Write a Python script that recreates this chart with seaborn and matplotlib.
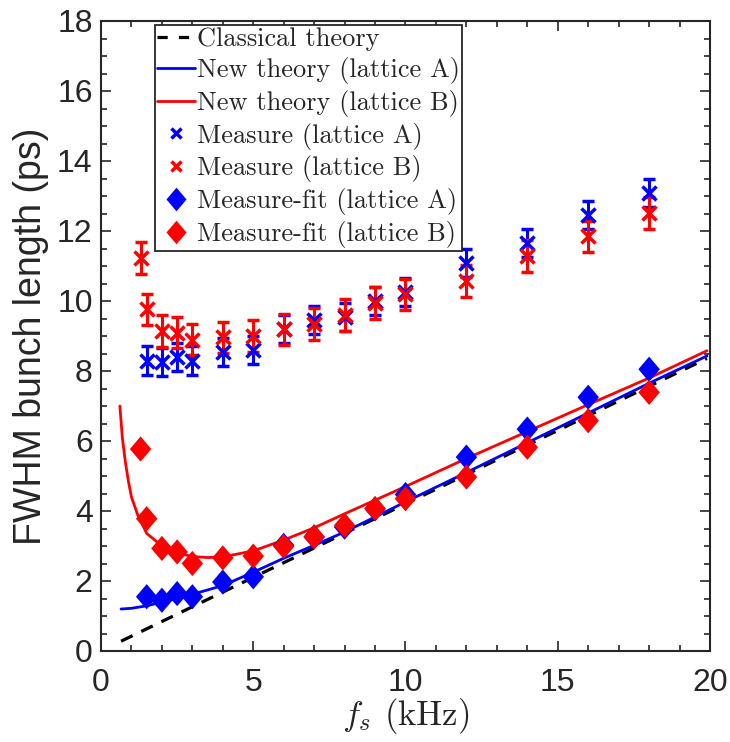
import numpy as np
import pandas as pd
import matplotlib
matplotlib.use("Agg")
import matplotlib.pyplot as plt
from matplotlib.lines import Line2D
from matplotlib.ticker import MultipleLocator
import seaborn as sns

#%% data
# classical theory (straight dashed line)
fs_classic = [0.66, 19.9]
bl_classic = [0.28, 8.36]

# new theory, lattice A
fs_theory_A = [0.66, 1.0, 1.5, 2.0, 2.5, 3.0, 4.0, 5.0, 6.0, 7.0, 8.0, 10.0, 12.0, 14.0, 16.0, 18.0, 19.9]
bl_theory_A = [1.2, 1.22, 1.29, 1.4, 1.5, 1.62, 1.87, 2.25, 2.65, 3.02, 3.4, 4.26, 5.1, 5.95, 6.8, 7.65, 8.43]

# new theory, lattice B
fs_theory_B = [0.62, 0.7, 0.8, 0.9, 1.0, 1.2, 1.5, 2.0, 2.5, 3.0, 3.5, 4.0, 5.0, 6.0, 7.0, 8.0, 10.0, 12.0, 14.0, 16.0, 18.0, 19.9]
bl_theory_B = [7.0, 6.1, 5.4, 4.85, 4.4, 3.9, 3.36, 3.0, 2.8, 2.7, 2.67, 2.69, 2.86, 3.17, 3.52, 3.92, 4.7, 5.5, 6.27, 7.04, 7.8, 8.58]

# measurements (with error bars)
fs_meas_A = [1.5, 2, 2.5, 3, 4, 5, 6, 7, 8, 9, 10, 12, 14, 16, 18]
bl_meas_A = [8.3, 8.25, 8.4, 8.3, 8.55, 8.6, 9.2, 9.45, 9.55, 10.0, 10.25, 11.1, 11.65, 12.45, 13.1]
err_meas_A = [0.4] * len(fs_meas_A)

fs_meas_B = [1.3, 1.5, 2, 2.5, 3, 4, 5, 6, 7, 8, 9, 10, 12, 14, 16, 18]
bl_meas_B = [11.23, 9.76, 9.14, 9.1, 8.9, 8.96, 9.0, 9.19, 9.35, 9.6, 9.95, 10.19, 10.57, 11.28, 11.85, 12.52]
err_meas_B = [0.45] * len(fs_meas_B)

# measure-fit
fs_fit_A = [1.5, 2, 2.5, 3, 4, 5, 6, 7, 8, 9, 10, 12, 14, 16, 18]
bl_fit_A = [1.55, 1.45, 1.64, 1.55, 1.97, 2.12, 3.02, 3.26, 3.54, 4.06, 4.47, 5.54, 6.34, 7.25, 8.05]

fs_fit_B = [1.3, 1.5, 2, 2.5, 3, 4, 5, 6, 7, 8, 9, 10, 12, 14, 16, 18]
bl_fit_B = [5.77, 3.78, 2.93, 2.83, 2.5, 2.66, 2.71, 2.99, 3.26, 3.59, 4.07, 4.35, 4.97, 5.82, 6.58, 7.39]

#%% style
sns.set_theme(style="ticks")
plt.rcParams["font.family"] = ["Liberation Sans", "DejaVu Sans"]
plt.rcParams["mathtext.fontset"] = "cm"
axis_gray = "#262626"

fig = plt.figure(figsize=(7.3, 7.42), dpi=100)
ax = fig.add_axes([101 / 730, 1 - 651 / 742, 609 / 730, 630 / 742])

blue = "#0000ff"
red = "#ff0000"
# matlab style diamond (a bit taller than wide)
diamond = [(0, 1), (0.85, 0), (0, -1), (-0.85, 0), (0, 1)]

#%% theory curves
sns.lineplot(x=fs_classic, y=bl_classic, ax=ax, color="black", lw=2.3,
             linestyle=(0, (4, 3)), sort=False, estimator=None, zorder=2)
sns.lineplot(x=fs_theory_A, y=bl_theory_A, ax=ax, color=blue, lw=2.0,
             sort=False, estimator=None, zorder=2)
sns.lineplot(x=fs_theory_B, y=bl_theory_B, ax=ax, color=red, lw=2.0,
             sort=False, estimator=None, zorder=2)

#%% measurements
ax.errorbar(fs_meas_A, bl_meas_A, yerr=err_meas_A, fmt="x", color=blue,
            ms=10, mew=2.5, elinewidth=2.2, capsize=4, capthick=2.2, zorder=3)
ax.errorbar(fs_meas_B, bl_meas_B, yerr=err_meas_B, fmt="x", color=red,
            ms=10, mew=2.5, elinewidth=2.2, capsize=4, capthick=2.2, zorder=3)

fit_df = pd.DataFrame({
    "fs": fs_fit_A + fs_fit_B,
    "bl": bl_fit_A + bl_fit_B,
    "lattice": ["A"] * len(fs_fit_A) + ["B"] * len(fs_fit_B),
})
sns.scatterplot(data=fit_df, x="fs", y="bl", hue="lattice",
                palette={"A": blue, "B": red}, marker=diamond, s=330,
                edgecolor="none", legend=False, ax=ax, zorder=4)

#%% axes
ax.set_xlim(0, 20)
ax.set_ylim(0, 18)
ax.xaxis.set_major_locator(MultipleLocator(5))
ax.xaxis.set_minor_locator(MultipleLocator(1))
ax.yaxis.set_major_locator(MultipleLocator(2))
ax.yaxis.set_minor_locator(MultipleLocator(0.5))
ax.tick_params(which="both", direction="in", top=True, right=True,
               color=axis_gray, width=1.2, labelsize=23, labelcolor=axis_gray)
ax.tick_params(axis="y", pad=6)
ax.tick_params(axis="x", pad=12)
ax.tick_params(which="major", length=7)
ax.tick_params(which="minor", length=4)
for sp in ax.spines.values():
    sp.set_visible(True)
    sp.set_color(axis_gray)
    sp.set_linewidth(1.5)

ax.set_ylabel("FWHM bunch length (ps)", fontsize=27, color=axis_gray, labelpad=6)
ax.set_xlabel(r"$f_s$ (kHz)", fontsize=25, color=axis_gray, family="cmr10", labelpad=-1)

#%% legend
handles = [
    Line2D([], [], color="black", lw=2.3, linestyle=(0, (3.2, 3.5))),
    Line2D([], [], color=blue, lw=2.0),
    Line2D([], [], color=red, lw=2.0),
    Line2D([], [], color=blue, marker="x", ls="none", ms=7, mew=2.5),
    Line2D([], [], color=red, marker="x", ls="none", ms=7, mew=2.5),
    Line2D([], [], color=blue, marker=diamond, ls="none", ms=17, mec="none"),
    Line2D([], [], color=red, marker=diamond, ls="none", ms=17, mec="none"),
]
labels = ["Classical theory", "New theory (lattice A)", "New theory (lattice B)",
          "Measure (lattice A)", "Measure (lattice B)",
          "Measure-fit (lattice A)", "Measure-fit (lattice B)"]
leg = ax.legend(handles, labels, loc="upper left", bbox_to_anchor=(0.088, 0.994),
                prop={"family": "cmr10", "size": 19}, frameon=True, fancybox=False,
                edgecolor=axis_gray, framealpha=1, borderpad=0.1, labelspacing=0.22,
                handlelength=1.45, handletextpad=0.05, borderaxespad=0)
leg.get_frame().set_linewidth(1.3)

plt.savefig("out.png", dpi=100)
